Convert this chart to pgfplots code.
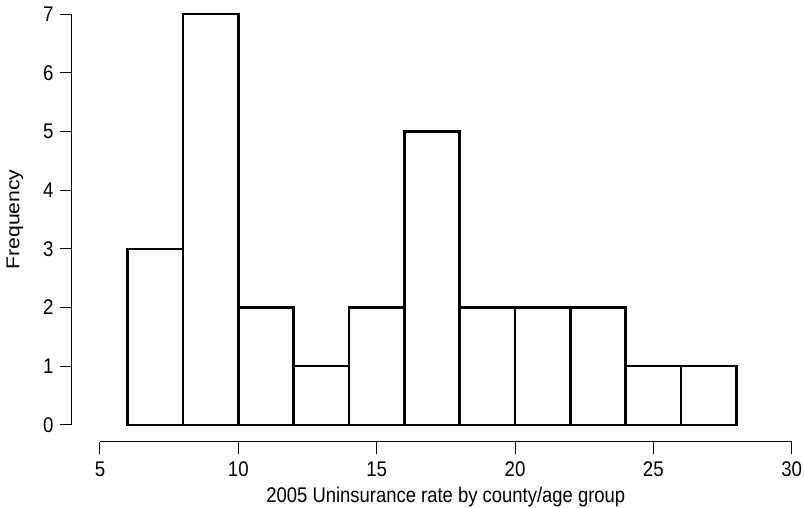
\documentclass[border=0pt]{standalone}
\usepackage{fontspec}
\setmainfont{Liberation Sans}
\usepackage{pgfplots}
\pgfplotsset{compat=1.18}
\usetikzlibrary{calc}
\begin{document}
\fontsize{10.6}{12}\selectfont
\begin{tikzpicture}
\begin{axis}[
  scale only axis,
  width=345.85pt, height=205.5pt,
  xmin=5, xmax=30, ymin=0, ymax=7,
  axis x line=bottom, axis y line=left,
  axis x line shift=8.5pt, axis y line shift=14pt,
  axis line style={-, line width=0.5pt},
  every tick/.style={black, line width=0.5pt},
  tick align=outside, major tick length=6pt,
  xtick={5,10,15,20,25,30}, ytick={0,1,...,7},
  /pgf/number format/assume math mode=true,
  ticklabel style={font=\fontsize{10.6}{12}\selectfont, xscale=0.88},
  xlabel={2005 Uninsurance rate by county/age group},
  ylabel={Frequency},
  xlabel style={font=\fontsize{10.6}{12}\selectfont, xscale=0.87},
  ylabel style={font=\fontsize{10.6}{12}\selectfont, yscale=0.88},
  xlabel shift=-1.8pt,
  ylabel shift=3.5pt,
  clip=false,
]
\addplot[ybar interval, fill=white, draw=black, line width=1.2pt] coordinates {
(6,3) (8,7) (10,2) (12,1) (14,2) (16,5) (18,2) (20,2) (22,2) (24,1) (26,1) (28,1)};
\coordinate (bl) at (rel axis cs:0,0);
\coordinate (tr) at (rel axis cs:1,1);
\end{axis}
\pgfresetboundingbox
\path ($(bl)+(-50pt,-41.5pt)$) rectangle ($(tr)+(6.15pt,7pt)$);
\end{tikzpicture}
\end{document}
